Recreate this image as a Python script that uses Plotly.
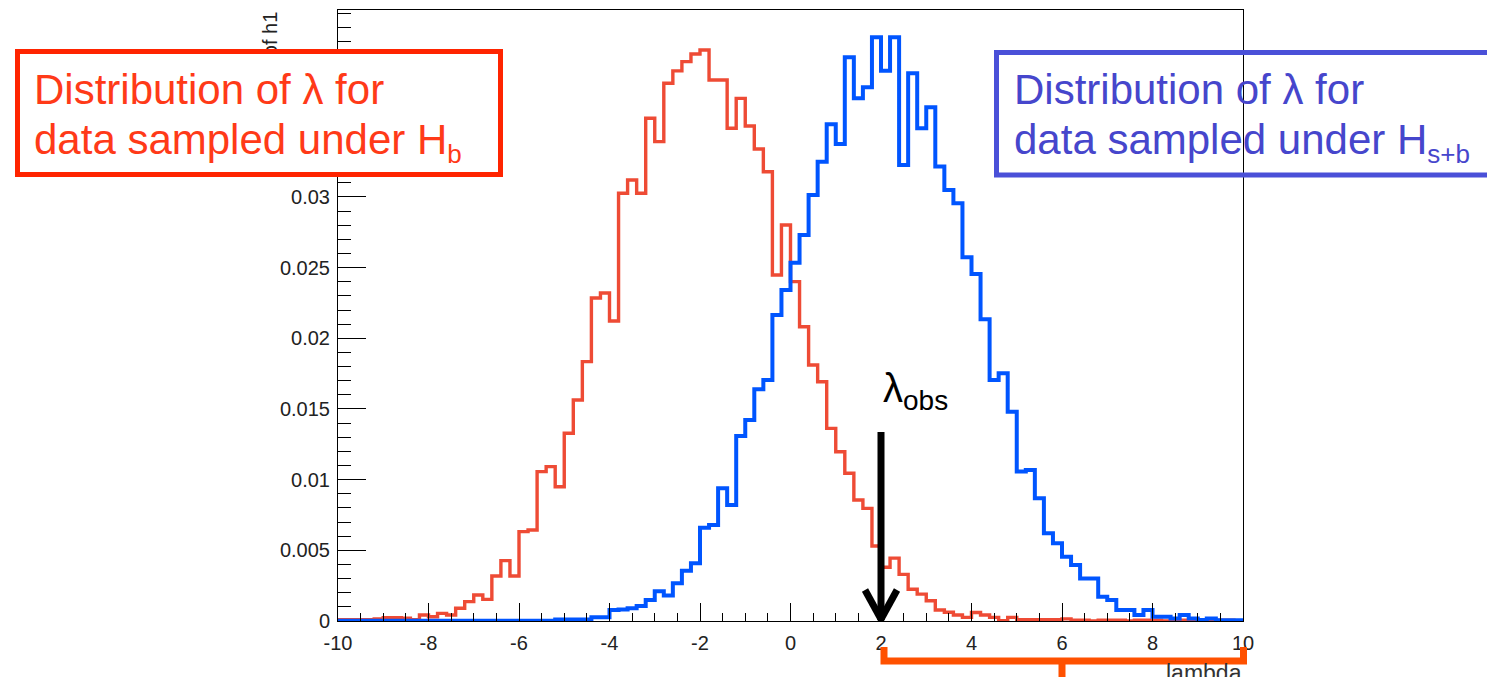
import plotly.graph_objects as go

# ---------------- data ----------------
BIN_LOW = -10.0
BIN_WIDTH = 0.2
N_BINS = 100
LAMBDA_OBS = 2.0

# lambda distribution under H_b (red), fraction per bin
h_b = [
    0.0001, 0.0001, 0.0001, 0.0001, 0.00015, 0.00024, 0.00024, 0.0002, 0.0001, 0.00042,
    0.0003, 0.00054, 0.00042, 0.0009, 0.00137, 0.00184, 0.00153, 0.00318, 0.00427, 0.00318,
    0.00632, 0.00644, 0.01057, 0.01092, 0.0095, 0.01328, 0.01564, 0.01835, 0.02285, 0.02321,
    0.02123, 0.03026, 0.0312, 0.03026, 0.03557, 0.03392, 0.03805, 0.03892, 0.03958, 0.04012,
    0.0404, 0.03828, 0.03828, 0.03486, 0.03698, 0.03502, 0.0334, 0.03179, 0.02448, 0.02802,
    0.02401, 0.02082, 0.01811, 0.01693, 0.01363, 0.01198, 0.01045, 0.00856, 0.00797, 0.00531,
    0.0038, 0.00445, 0.0033, 0.00225, 0.0019, 0.00143, 0.00078, 0.00062, 0.00042, 0.00026,
    0.0006, 0.00042, 0.00026, 0.00002, 0.00026, 0.0001, 0.0001, 0.0001, 0.0001, 0.0001,
    0.00015, 0.00005, 0.00005, 0.0, 0.00005, 0.00005, 0.00005, 0.0, 0.00005, 0.00005,
    0.00005, 0.0, 0.00005, 0.00005, 0.00005, 0.00005, 0.0, 0.00005, 0.00005, 0.0,
]

# lambda distribution under H_s+b (blue), fraction per bin
h_sb = [
    0.00002, 0.00002, 0.00002, 0.00002, 0.00002, 0.00002, 0.00002, 0.00002, 0.00002, 0.00002,
    0.00002, 0.00002, 0.00002, 0.00002, 0.00002, 0.00002, 0.00002, 0.00002, 0.00002, 0.00002,
    0.00002, 0.00002, 0.00002, 0.00002, 0.0001, 0.0001, 0.0001, 0.0001, 0.00026, 0.00026,
    0.00078, 0.00082, 0.0009, 0.00106, 0.00149, 0.0021, 0.0018, 0.00267, 0.00355, 0.00408,
    0.0066, 0.00679, 0.00939, 0.00821, 0.01309, 0.01422, 0.01639, 0.01705, 0.02165, 0.02342,
    0.02535, 0.02731, 0.03014, 0.0325, 0.03514, 0.03375, 0.03989, 0.03698, 0.03776, 0.0413,
    0.03894, 0.0413, 0.03226, 0.03875, 0.03486, 0.03635, 0.03215, 0.0305, 0.02955, 0.02573,
    0.02455, 0.02135, 0.01705, 0.01753, 0.01481, 0.01057, 0.01068, 0.00868, 0.00621, 0.0055,
    0.00455, 0.00396, 0.003, 0.003, 0.00172, 0.00149, 0.00078, 0.00078, 0.00042, 0.00078,
    0.0003, 0.0003, 0.00018, 0.00042, 0.00018, 0.00007, 0.00018, 0.00005, 0.00005, 0.00005,
]

x_tickvals = [-10, -8, -6, -4, -2, 0, 2, 4, 6, 8, 10]
x_ticktext = ["-10", "-8", "-6", "-4", "-2", "0", "2", "4", "6", "8", "10"]
y_tickvals = [0, 0.005, 0.01, 0.015, 0.02, 0.025, 0.03, 0.035, 0.04]
y_ticktext = ["0", "0.005", "0.01", "0.015", "0.02", "0.025", "0.03", "0.035", "0.04"]
Y_MAX = 0.04323

# ---------------- figure ----------------
edges = [BIN_LOW + i * BIN_WIDTH for i in range(N_BINS + 1)]

RED = "#EE4B35"
BLUE = "#0055FF"
BOX_RED = "#FF2400"
TXT_RED = "#FF3A18"
BOX_BLUE = "#4A50D8"
TXT_BLUE = "#4646CC"
ORANGE = "#FF5100"
FONT = "Liberation Sans, Arial, Helvetica, sans-serif"

fig = go.Figure()
fig.add_trace(go.Scatter(x=edges, y=list(h_b) + [h_b[-1]], mode="lines",
                         line=dict(color=RED, width=3.4, shape="hv"), hoverinfo="skip"))
fig.add_trace(go.Scatter(x=edges, y=list(h_sb) + [h_sb[-1]], mode="lines",
                         line=dict(color=BLUE, width=4, shape="hv"), hoverinfo="skip"))

# the page body adds an 8px offset; design in screen pixels and convert
OFF = 8
W, H = 1495, 677
SX0, SX1, SY0, SY1 = 338, 1243, 10, 621   # plot area in screen pixels
L, T = SX0 - OFF, SY0 - OFF
R, B = W - (SX1 - OFF), H - (SY1 - OFF)
PW, PH = SX1 - SX0, SY1 - SY0


def px(xs):
    return (xs - SX0) / PW


def py(ys):
    return (SY1 - ys) / PH


fig.update_layout(
    width=W, height=H,
    margin=dict(l=L, r=R, t=T, b=B, pad=0),
    plot_bgcolor="white", paper_bgcolor="white",
    showlegend=False,
    font=dict(family=FONT, color="#222222"),
    xaxis=dict(
        range=[-10, 10], tickmode="array", tickvals=x_tickvals, ticktext=x_ticktext,
        ticks="inside", ticklen=18, tickwidth=1, tickcolor="black",
        showline=True, linecolor="black", linewidth=1, mirror=True,
        showgrid=False, zeroline=False, automargin=False,
        tickfont=dict(size=20, family=FONT, color="#222222"),
        ticklabelstandoff=4,
        minor=dict(tickmode="linear", tick0=-10, dtick=0.5, ticks="inside", ticklen=8,
                   tickwidth=1, tickcolor="black", showgrid=False),
    ),
    yaxis=dict(
        range=[0, Y_MAX], tickmode="array", tickvals=y_tickvals, ticktext=y_ticktext,
        ticks="inside", ticklen=28, tickwidth=1, tickcolor="black",
        showline=True, linecolor="black", linewidth=1, mirror=True,
        showgrid=False, zeroline=False, automargin=False,
        tickfont=dict(size=20, family=FONT, color="#222222"),
        ticklabelstandoff=3,
        minor=dict(tickmode="linear", tick0=0, dtick=0.001, ticks="inside", ticklen=13,
                   tickwidth=1, tickcolor="black", showgrid=False),
    ),
)

SUB = "<sub><span style='font-size:26px'>{}</span></sub>"

annotations = []
# y-axis title (mostly hidden behind the red box)
annotations.append(dict(
    text="Fraction of h1", textangle=-90, xref="paper", yref="paper",
    x=px(270), y=py(10), xanchor="center", yanchor="top", showarrow=False,
    font=dict(size=20, family=FONT, color="#222222"),
))
# red box (white filled)
annotations.append(dict(
    text=" ", xref="paper", yref="paper", x=px(259), y=py(113.5),
    xanchor="center", yanchor="middle", showarrow=False,
    width=478, height=118, bgcolor="white", bordercolor=BOX_RED,
    borderwidth=5, borderpad=0,
))
# red box text
annotations.append(dict(
    text="Distribution of λ for", xref="paper", yref="paper", x=px(33), y=py(65),
    xanchor="left", yanchor="top", showarrow=False, borderpad=0,
    font=dict(size=42, family=FONT, color=TXT_RED),
))
annotations.append(dict(
    text="data sampled under H" + SUB.format("b"), xref="paper", yref="paper", x=px(33), y=py(115),
    xanchor="left", yanchor="top", showarrow=False, borderpad=0,
    font=dict(size=42, family=FONT, color=TXT_RED),
))
# blue box text
annotations.append(dict(
    text="Distribution of λ for", xref="paper", yref="paper", x=px(1013), y=py(65),
    xanchor="left", yanchor="top", showarrow=False, borderpad=0,
    font=dict(size=42, family=FONT, color=TXT_BLUE),
))
annotations.append(dict(
    text="data sampled under H" + SUB.format("s+b"), xref="paper", yref="paper", x=px(1013), y=py(115),
    xanchor="left", yanchor="top", showarrow=False, borderpad=0,
    font=dict(size=42, family=FONT, color=TXT_BLUE),
))
# lambda_obs label
annotations.append(dict(
    text="λ<sub>obs</sub>", xref="paper", yref="paper", x=px(882), y=py(365),
    xanchor="left", yanchor="top", showarrow=False, borderpad=0,
    font=dict(size=40, family=FONT, color="black"),
))
# x-axis title (cut off at the bottom)
annotations.append(dict(
    text="lambda", xref="paper", yref="paper", x=1.0, y=py(659),
    xanchor="right", yanchor="top", showarrow=False, borderpad=0,
    font=dict(size=23, family=FONT, color="#333333"),
))
fig.update_layout(annotations=annotations)

shapes = []
# blue box (no fill), open on the right because it runs off the picture
bl, br, bt, bb = px(996.5), px(1700), py(52.5), py(175)
shapes.append(dict(type="path", xref="paper", yref="paper",
                   path=f"M {br},{bt} L {bl},{bt} L {bl},{bb} L {br},{bb}",
                   line=dict(color=BOX_BLUE, width=5), layer="above"))
# observed lambda arrow
shapes.append(dict(type="line", xref="x", yref="y", xsizemode="pixel", ysizemode="pixel",
                   xanchor=LAMBDA_OBS, yanchor=0, x0=0, x1=0, y0=2, y1=189,
                   line=dict(color="black", width=7), layer="above"))
shapes.append(dict(type="line", xref="x", yref="y", xsizemode="pixel", ysizemode="pixel",
                   xanchor=LAMBDA_OBS, yanchor=0, x0=-16, x1=1, y0=31, y1=0,
                   line=dict(color="black", width=7), layer="above"))
shapes.append(dict(type="line", xref="x", yref="y", xsizemode="pixel", ysizemode="pixel",
                   xanchor=LAMBDA_OBS, yanchor=0, x0=16, x1=-1, y0=31, y1=0,
                   line=dict(color="black", width=7), layer="above"))
# orange bracket under x axis
bx0, bx1, bxc = px(884), px(1243.5), px(1062)
by, btop, bbot = py(661), py(647), py(690)
shapes.append(dict(type="path", xref="paper", yref="paper",
                   path=f"M {bx0},{btop} L {bx0},{by} L {bx1},{by} L {bx1},{btop}",
                   line=dict(color=ORANGE, width=7), layer="above"))
shapes.append(dict(type="line", xref="paper", yref="paper",
                   x0=bxc, x1=bxc, y0=by, y1=bbot,
                   line=dict(color=ORANGE, width=7), layer="above"))
fig.update_layout(shapes=shapes)

fig.write_html("out.html")
